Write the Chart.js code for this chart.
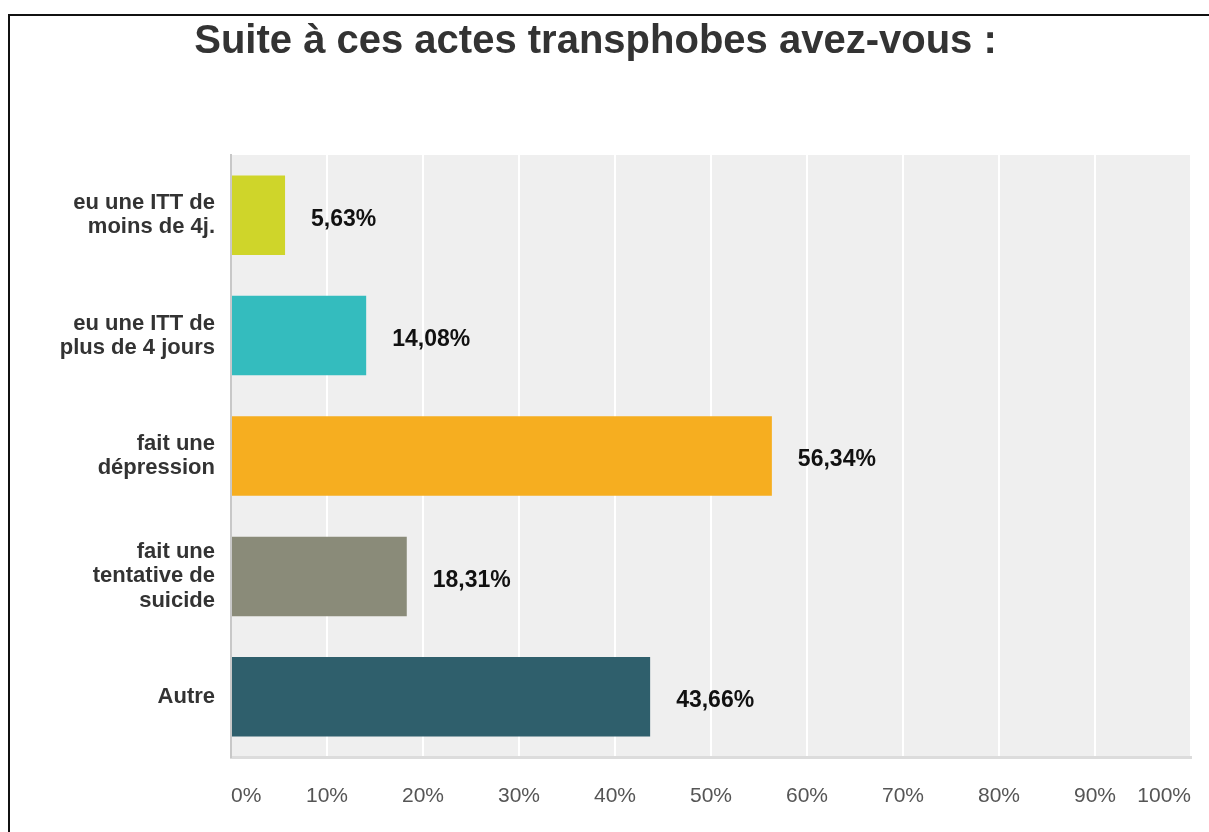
<!DOCTYPE html>
<html>
<head>
<meta charset="utf-8">
<script src="https://cdn.jsdelivr.net/npm/chart.js@4.4.0/dist/chart.umd.min.js"></script>
<style>
  html, body { margin: 0; padding: 0; background: #fff; }
  #frame { position: absolute; left: 8px; top: 14px; right: 0; bottom: 0;
           border-top: 2px solid #111; border-left: 2px solid #111; }
  #wrap { position: absolute; left: 0; top: 0; width: 1209px; height: 832px; }
</style>
</head>
<body>
<div id="frame"></div>
<div id="wrap"><canvas id="myChart" width="1209" height="832"></canvas></div>
<script>
const categories = [
  ['eu une ITT de', 'moins de 4j.'],
  ['eu une ITT de', 'plus de 4 jours'],
  ['fait une', 'dépression'],
  ['fait une', 'tentative de', 'suicide'],
  'Autre'
];
const values = [5.63, 14.08, 56.34, 18.31, 43.66];
const barColors = ['#cfd52a', '#34bcbe', '#f6ae20', '#8a8b79', '#2f5f6c'];
const tickValues = [0, 10, 20, 30, 40, 50, 60, 70, 80, 90, 100];

const plotBg = {
  id: 'plotBg',
  beforeDraw(chart) {
    const a = chart.chartArea, ctx = chart.ctx;
    ctx.save();
    ctx.fillStyle = '#efefef';
    ctx.fillRect(a.left, a.top, a.right - a.left, a.bottom - a.top);
    ctx.restore();
  }
};

const valueLabels = {
  id: 'valueLabels',
  afterDatasetsDraw(chart) {
    const ctx = chart.ctx;
    const meta = chart.getDatasetMeta(0);
    ctx.save();
    ctx.font = 'bold 23px Arial, "Liberation Sans", sans-serif';
    ctx.fillStyle = '#111';
    ctx.textAlign = 'left';
    ctx.textBaseline = 'middle';
    meta.data.forEach((bar, i) => {
      const txt = values[i].toFixed(2).replace('.', ',') + '%';
      ctx.fillText(txt, bar.x + 26, bar.y + 4);
    });
    ctx.restore();
  }
};

new Chart('myChart', {
  type: 'bar',
  data: {
    labels: categories,
    datasets: [{
      data: values,
      backgroundColor: barColors,
      barPercentage: 0.66,
      categoryPercentage: 1
    }]
  },
  options: {
    indexAxis: 'y',
    responsive: false,
    animation: false,
    layout: { padding: { left: 0, right: 18, top: 0, bottom: 0 } },
    plugins: {
      legend: { display: false },
      tooltip: { enabled: false },
      title: {
        display: true,
        text: 'Suite à ces actes transphobes avez-vous :',
        color: '#333',
        font: { family: 'Arial, "Liberation Sans", sans-serif', size: 40, weight: 'bold' },
        padding: { top: 18, bottom: 89 }
      }
    },
    scales: {
      x: {
        min: 0,
        max: 100,
        afterBuildTicks(scale) { scale.ticks = tickValues.map(v => ({ value: v })); },
        afterFit(scale) {
          scale.height = 75;
          scale.paddingLeft = 0;
          scale.paddingRight = 0;
        },
        ticks: {
          callback: v => v + '%',
          color: '#555',
          padding: 27,
          align: 'inner',
          maxRotation: 0,
          font: { family: 'Arial, "Liberation Sans", sans-serif', size: 21 }
        },
        grid: { color: ctx => ctx.index === 0 ? 'rgba(0,0,0,0)' : '#ffffff', lineWidth: 2, drawTicks: false },
        border: { color: '#dcdcdc', width: 3 }
      },
      y: {
        afterFit(scale) { scale.width = 231; },
        ticks: {
          color: '#333',
          padding: 16,
          font: { family: 'Arial, "Liberation Sans", sans-serif', size: 22, weight: 'bold', lineHeight: 1.1 }
        },
        grid: { display: false, drawTicks: false },
        border: { color: '#c8c8c8', width: 2 }
      }
    }
  },
  plugins: [plotBg, valueLabels]
});
</script>
</body>
</html>
